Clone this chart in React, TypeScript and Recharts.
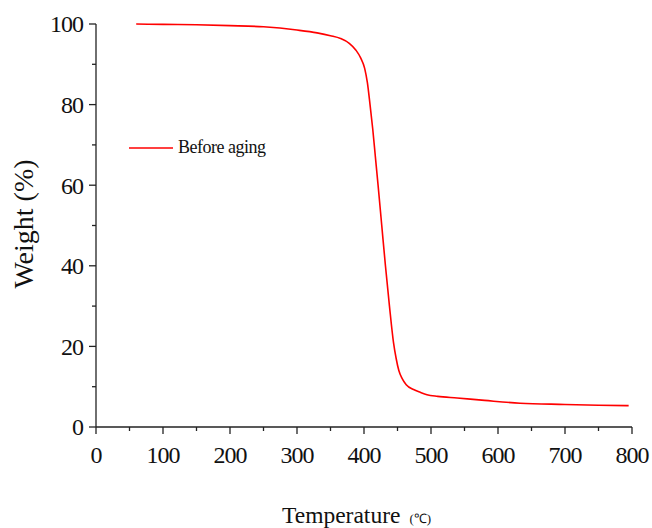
import { LineChart, Line, XAxis, YAxis } from "recharts"

const temperature = [
  60, 100, 150, 200, 250, 300, 330, 350, 365, 378, 388, 395, 401, 405, 409, 413,
  417, 421, 426.5, 432, 438, 444, 448, 452, 457, 463, 474, 484, 494, 510, 539, 580,
  633, 700, 750, 795,
]
const weight = [
  100, 99.9, 99.8, 99.6, 99.3, 98.5, 97.8, 97.1, 96.4, 95.2, 93.5, 91.6, 89, 85.5, 80, 74,
  67, 60, 50, 40, 30, 21, 17, 14, 12, 10.5, 9.3, 8.6, 8.0, 7.6, 7.2, 6.6,
  5.9, 5.6, 5.4, 5.3,
]
const xTicks = [0, 50, 100, 150, 200, 250, 300, 350, 400, 450, 500, 550, 600, 650, 700, 750, 800]
const yTicks = [0, 10, 20, 30, 40, 50, 60, 70, 80, 90, 100]

const data = temperature.map((t, i) => ({ t, w: weight[i] }))

const FONT = '"Liberation Serif", "Times New Roman", serif'
const AXIS = "#222"

function XTick({ x, y, payload }: any) {
  const major = payload.value % 100 === 0
  return (
    <g>
      <line x1={x} x2={x} y1={y} y2={y + (major ? 7 : 4)} stroke={AXIS} strokeWidth={1.3} />
      {major && (
        <text x={x} y={y + 36} textAnchor="middle" fontFamily={FONT} fontSize={24} letterSpacing={-1} fill="#111">
          {payload.value}
        </text>
      )}
    </g>
  )
}

function YTick({ x, y, payload }: any) {
  const major = payload.value % 20 === 0
  return (
    <g>
      <line x1={x - (major ? 7 : 4)} x2={x} y1={y} y2={y} stroke={AXIS} strokeWidth={1.3} />
      {major && (
        <text x={x - 13} y={y} dy="0.35em" textAnchor="end" fontFamily={FONT} fontSize={24} letterSpacing={-1} fill="#111">
          {payload.value}
        </text>
      )}
    </g>
  )
}

export default function App() {
  return (
    <div style={{ position: "absolute", left: 0, top: 0, background: "#fff" }}>
      <LineChart width={652} height={528} data={data} margin={{ top: 24, right: 20, bottom: 41, left: 0 }}>
        <XAxis
          dataKey="t"
          type="number"
          domain={[0, 800]}
          ticks={xTicks}
          interval={0}
          tickSize={0}
          tickMargin={0}
          tickLine={false}
          height={60}
          axisLine={{ stroke: AXIS, strokeWidth: 1.3 }}
          tick={<XTick />}
          label={{
            content: () => (
              <text x={282} y={523} fontFamily={FONT} fill="#111">
                <tspan fontSize={23.5}>Temperature</tspan>
                <tspan fontSize={13} dx={9}>(℃)</tspan>
              </text>
            ),
          }}
        />
        <YAxis
          type="number"
          domain={[0, 100]}
          ticks={yTicks}
          interval={0}
          tickSize={0}
          tickMargin={0}
          tickLine={false}
          width={96}
          axisLine={{ stroke: AXIS, strokeWidth: 1.3 }}
          tick={<YTick />}
          label={{
            content: () => (
              <text x={33} y={224} transform="rotate(-90, 33, 224)" textAnchor="middle" fontFamily={FONT} fontSize={28} fill="#111">
                Weight (%)
              </text>
            ),
          }}
        />
        <Line
          type="monotone"
          dataKey="w"
          name="Before aging"
          stroke="#ff0000"
          strokeWidth={1.6}
          dot={false}
          isAnimationActive={false}
        />
      </LineChart>
      <div
        style={{
          position: "absolute",
          left: 129,
          top: 137,
          display: "flex",
          alignItems: "center",
          fontFamily: FONT,
          fontSize: 18,
          letterSpacing: -0.5,
          color: "#111",
        }}
      >
        <svg width={49} height={20}>
          <line x1={0} x2={44} y1={10} y2={10} stroke="#ff0000" strokeWidth={1.6} />
        </svg>
        <span>Before aging</span>
      </div>
    </div>
  )
}
